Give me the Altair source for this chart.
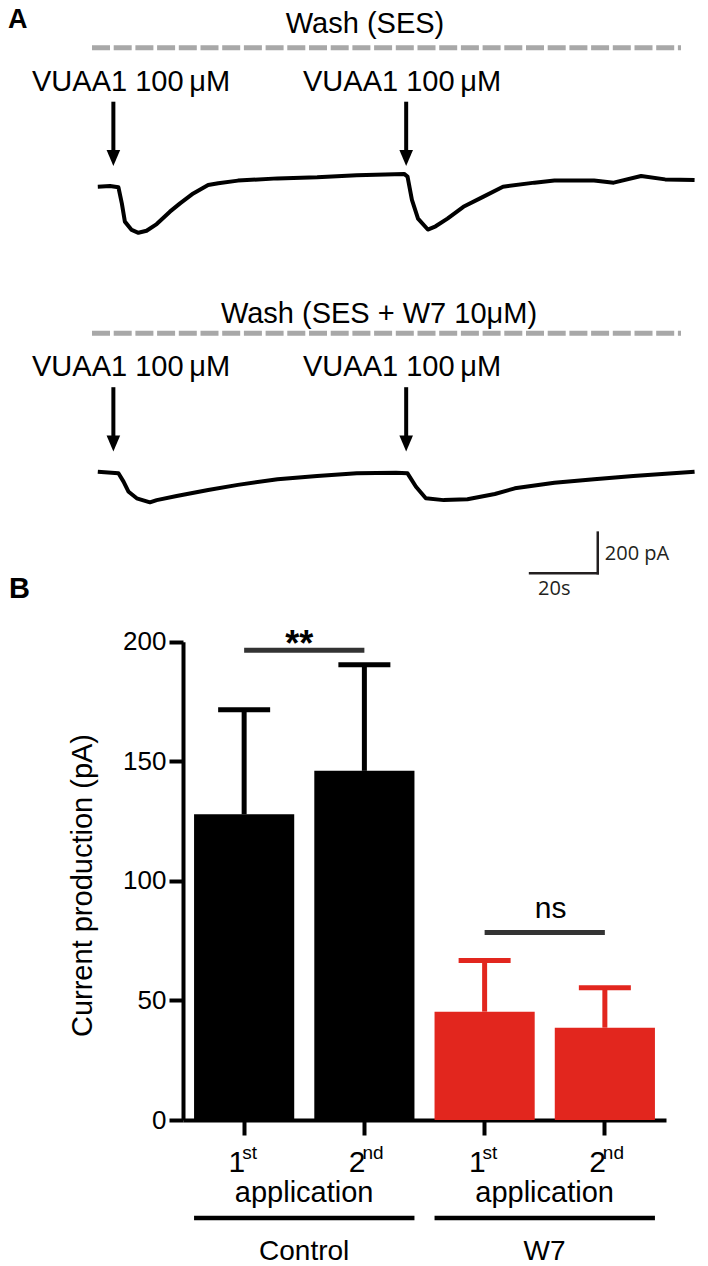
import altair as alt
import pandas as pd

FONT = "Liberation Sans"

# ---------------- Panel A data (time in s, current in pA) ----------------
trace1_t = [0.0, 3.6, 6.1, 7.1, 8.0, 10.0, 12.0, 14.4, 17.4, 21.3, 24.3, 28.2, 32.6, 35.6,
            41.4, 53.1, 64.8, 76.5, 90.5, 91.5, 92.8, 94.6, 97.5, 99.8, 103.3, 108.0,
            113.8, 119.7, 129.0, 134.9, 146.6, 152.4, 160.5, 167.6, 176.3]
trace1_i = [0, 3, -3, -82, -172, -213, -227, -217, -184, -123, -82, -33, 8, 17,
            30, 41, 46, 56, 63, 50, -65, -157, -211, -195, -157, -99,
            -50, 0, 20, 30, 30, 20, 53, 36, 33]
trace2_t = [0.0, 6.1, 7.6, 9.1, 11.5, 15.4, 17.4, 23.3, 32.6, 41.4, 53.1, 64.8, 76.5,
            88.1, 91.5, 94.0, 96.9, 102.2, 109.2, 117.3, 123.2, 134.9, 146.6, 158.2,
            169.9, 176.3]
trace2_i = [0, -8, -49, -99, -131, -151, -140, -120, -90, -65, -37, -21, -8,
            -5, -8, -74, -131, -140, -136, -110, -82, -54, -37, -21,
            -8, 0]
app_times = [4.6, 91.1]
stim_label = "VUAA1 100\u2009μM"
wash_labels = ["Wash (SES)", "Wash (SES + W7 10μM)"]
panel_labels = ["A", "B"]
scalebar_t = [127.7, 147.7]
scalebar_t2 = [147.7, 147.7]
scalebar_i = [-500, -500]
scalebar_i2 = [-500, -300]
scalebar_text = ["20s", "200 pA"]

# ---------------- Panel B data ----------------
groups = ["Control", "Control", "W7", "W7"]
ordinals = ["1", "2", "1", "2"]
suffixes = ["st", "nd", "st", "nd"]
means = [127.8, 146.0, 45.3, 38.6]
sems = [43.7, 44.4, 21.4, 16.7]
y_ticks = [0, 50, 100, 150, 200]
sig_labels = ["**", "ns"]
sig_heights = [196.4, 78.4]
x_caption = "application"
y_title = "Current production (pA)"
group_colors = ["#000000", "#e2261e"]

# ---------------- layout constants ----------------
W, H = 692, 1258
PX_S = 3.385
PX_PA = 0.203
T0_X = 89.8


def trace_panel(t, cur, base_y, y_dom, wash_text, off, wash_off, extra=None, letter=None):
    xs = alt.Scale(domain=[0, 180], range=[T0_X, T0_X + 180 * PX_S], nice=False, zero=False)
    ys = alt.Scale(domain=y_dom,
                   range=[base_y - y_dom[0] * PX_PA, base_y - y_dom[1] * PX_PA],
                   nice=False, zero=False)
    df = pd.DataFrame({"t": t, "i": cur})
    line = alt.Chart(df).mark_line(color="black", strokeWidth=4, strokeJoin="round").encode(
        x=alt.X("t:Q", scale=xs, axis=None),
        y=alt.Y("i:Q", scale=ys, axis=None),
    )
    arr_df = pd.DataFrame({"t": app_times})
    stems = alt.Chart(arr_df).mark_rule(color="black", strokeWidth=4).encode(
        x=alt.X("t:Q", scale=xs, axis=None),
        y=alt.value(93.7 + off),
        y2=alt.value(144 + off),
    )
    heads = alt.Chart(arr_df).mark_point(
        shape="M-0.85,-1L0.85,-1L0,1Z", size=256, filled=True, color="black", opacity=1, strokeWidth=0
    ).encode(
        x=alt.X("t:Q", scale=xs, axis=None),
        y=alt.value(150 + off),
    )
    wash = alt.Chart(pd.DataFrame({"label": [wash_text]})).mark_text(
        align="center", baseline="alphabetic", font=FONT, fontSize=29, color="black"
    ).encode(x=alt.value(357 if wash_off == 0 else 371), y=alt.value(24.5 + wash_off), text="label:N")
    dash = alt.Chart(pd.DataFrame({"d": [0]})).mark_rule(
        color="#a8a8a8", strokeWidth=5, strokeDash=[18, 3.7]
    ).encode(x=alt.value(84), x2=alt.value(673), y=alt.value(39.7 + off))
    lab_df = pd.DataFrame({"label": [stim_label]})
    lab1 = alt.Chart(lab_df).mark_text(
        align="left", baseline="alphabetic", font=FONT, fontSize=29, color="black"
    ).encode(x=alt.value(24), y=alt.value(82.5 + off), text="label:N")
    lab2 = alt.Chart(lab_df).mark_text(
        align="left", baseline="alphabetic", font=FONT, fontSize=29, color="black"
    ).encode(x=alt.value(295), y=alt.value(82.5 + off), text="label:N")
    layers = [line, stems, heads, wash, dash, lab1, lab2]
    if letter is not None:
        layers.append(
            alt.Chart(pd.DataFrame({"label": [letter]})).mark_text(
                align="left", baseline="alphabetic", font=FONT, fontSize=27, fontWeight="bold", color="black"
            ).encode(x=alt.value(0), y=alt.value(20), text="label:N")
        )
    if extra is not None:
        layers += extra(xs, ys)
    return alt.layer(*layers)


def scalebar(xs, ys):
    sb = pd.DataFrame({"t": scalebar_t, "t2": scalebar_t2, "i": scalebar_i, "i2": scalebar_i2})
    bar = alt.Chart(sb).mark_rule(color="#231f20", strokeWidth=2.5, strokeCap="square").encode(
        x=alt.X("t:Q", scale=xs, axis=None), x2="t2:Q",
        y=alt.Y("i:Q", scale=ys, axis=None), y2="i2:Q",
    )
    t_lab = alt.Chart(pd.DataFrame({"t": [scalebar_t[0]], "i": [scalebar_i[0]], "label": [scalebar_text[0]]})).mark_text(
        align="left", baseline="middle", font="Open Sans", fontSize=20, color="#231f20", dx=8, dy=16
    ).encode(x=alt.X("t:Q", scale=xs, axis=None), y=alt.Y("i:Q", scale=ys, axis=None), text="label:N")
    i_lab = alt.Chart(pd.DataFrame({"t": [scalebar_t2[1]], "i": [(scalebar_i2[0] + scalebar_i2[1]) / 2], "label": [scalebar_text[1]]})).mark_text(
        align="left", baseline="middle", font="Open Sans", fontSize=20, color="#231f20", dx=7, dy=1
    ).encode(x=alt.X("t:Q", scale=xs, axis=None), y=alt.Y("i:Q", scale=ys, axis=None), text="label:N")
    return [bar, t_lab, i_lab]


A1 = trace_panel(trace1_t, trace1_i, 178.7, [-300, 100], wash_labels[0], 0, 0, letter=panel_labels[0])
A2 = trace_panel(trace2_t, trace2_i, 463.7, [-550, 100], wash_labels[1], 285.5, 290, extra=scalebar)

# ---------------- Panel B ----------------
cats = [f"{g} {o}{s}" for g, o, s in zip(groups, ordinals, suffixes)]
bdf = pd.DataFrame({
    "cat": cats, "group": groups, "mean": means,
    "upper": [m + s for m, s in zip(means, sems)],
    "ordinal": ordinals, "suffix": suffixes,
})
xb = alt.Scale(domain=cats, range=[175, 658], paddingInner=0.167, paddingOuter=0.092)
yb = alt.Scale(domain=[0, 200], range=[1112, 633.7], nice=False, zero=True)
cb = alt.Scale(domain=["Control", "W7"], range=group_colors)

xaxis = alt.Axis(offset=-146, labels=False, title=None, domainWidth=4, domainColor="black",
                 tickWidth=4, tickColor="black", tickSize=15, grid=False)
yaxis = alt.Axis(values=y_ticks, offset=-175, domainWidth=4, domainColor="black",
                 tickWidth=4, tickColor="black", tickSize=14, labelFont=FONT, labelFontSize=26,
                 labelColor="black", labelPadding=3, grid=False, title=y_title, titleFont=FONT,
                 titleFontSize=29, titleFontWeight="normal", titleColor="black", titleX=-101,
                 titleY=877, titleAngle=270, titleAlign="center", titleBaseline="middle")

base_b = alt.Chart(bdf)
bars = base_b.mark_bar().encode(
    x=alt.X("cat:N", scale=xb, axis=xaxis, sort=cats),
    y=alt.Y("mean:Q", scale=yb, axis=yaxis),
    color=alt.Color("group:N", scale=cb, legend=None),
)
stems_b = base_b.mark_rule(strokeWidth=5).encode(
    x=alt.X("cat:N", scale=xb, sort=cats), y=alt.Y("mean:Q", scale=yb), y2="upper:Q",
    color=alt.Color("group:N", scale=cb, legend=None),
)
caps = base_b.mark_tick(thickness=5, size=52, opacity=1).encode(
    x=alt.X("cat:N", scale=xb, sort=cats), y=alt.Y("upper:Q", scale=yb),
    color=alt.Color("group:N", scale=cb, legend=None),
)
digits = base_b.mark_text(align="right", baseline="alphabetic", font=FONT, fontSize=30, color="black", dx=1).encode(
    x=alt.X("cat:N", scale=xb, sort=cats), y=alt.value(1164), text="ordinal:N")
sups = base_b.mark_text(align="left", baseline="alphabetic", font=FONT, fontSize=19, color="black", dx=-2).encode(
    x=alt.X("cat:N", scale=xb, sort=cats), y=alt.value(1151), text="suffix:N")

pairs = pd.DataFrame({"c1": [cats[0], cats[2]], "c2": [cats[1], cats[3]], "h": sig_heights,
                      "sig": sig_labels, "grp": ["Control", "W7"], "cap": [x_caption, x_caption]})
sig_rules = alt.Chart(pairs).mark_rule(color="#333333", strokeWidth=5).encode(
    x=alt.X("c1:N", scale=xb, sort=cats, bandPosition=0.5),
    x2=alt.X2("c2:N", bandPosition=0.5),
    y=alt.Y("h:Q", scale=yb),
)
sig1 = alt.Chart(pairs.iloc[[0]]).mark_text(align="center", baseline="alphabetic", font=FONT, fontSize=36,
                                           fontWeight="bold", color="black", dx=55, dy=6).encode(
    x=alt.X("c1:N", scale=xb, sort=cats), y=alt.Y("h:Q", scale=yb), text="sig:N")
sig2 = alt.Chart(pairs.iloc[[1]]).mark_text(align="center", baseline="alphabetic", font=FONT, fontSize=30,
                                           color="black", dx=66, dy=-15).encode(
    x=alt.X("c1:N", scale=xb, sort=cats), y=alt.Y("h:Q", scale=yb), text="sig:N")
grp_rules = alt.Chart(pairs).mark_rule(color="black", strokeWidth=4.5).encode(
    x=alt.X("c1:N", scale=xb, sort=cats, bandPosition=0),
    x2=alt.X2("c2:N", bandPosition=1),
    y=alt.value(1210),
)
cap_text = alt.Chart(pairs).mark_text(align="center", baseline="alphabetic", font=FONT, fontSize=29,
                                      color="black", dx=60).encode(
    x=alt.X("c1:N", scale=xb, sort=cats), y=alt.value(1194), text="cap:N")
grp_text = alt.Chart(pairs).mark_text(align="center", baseline="alphabetic", font=FONT, fontSize=28,
                                      color="black", dx=60).encode(
    x=alt.X("c1:N", scale=xb, sort=cats), y=alt.value(1252), text="grp:N")
letter_b = alt.Chart(pd.DataFrame({"label": [panel_labels[1]]})).mark_text(
    align="left", baseline="alphabetic", font=FONT, fontSize=29, fontWeight="bold", color="black"
).encode(x=alt.value(1), y=alt.value(590), text="label:N")

B = alt.layer(bars, stems_b, caps, sig_rules, sig1, sig2, digits, sups, cap_text, grp_rules, grp_text, letter_b)

chart = alt.layer(A1, A2, B).resolve_scale(
    x="independent", y="independent", color="independent"
).properties(
    width=W, height=H, padding=0, autosize=alt.AutoSizeParams(type="none")
).configure_view(stroke=None)

chart.save("out.html", embed_options={"renderer": "svg", "actions": False})
